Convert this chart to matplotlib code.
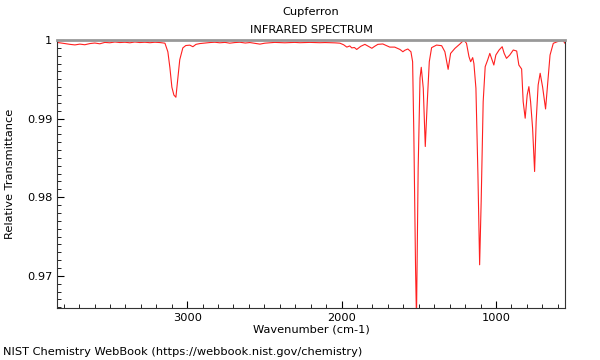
import matplotlib
matplotlib.use('Agg')
import matplotlib.pyplot as plt
from matplotlib.ticker import MultipleLocator, FuncFormatter

# spectrum
wavenumber = [
    3844, 3825, 3792, 3759, 3727, 3695, 3663, 3630, 3598, 3566,
    3533, 3501, 3468, 3436, 3403, 3371, 3339, 3307, 3274, 3241,
    3209, 3177, 3144, 3125, 3112, 3099, 3086, 3073, 3061, 3048,
    3028, 3009, 2983, 2963, 2943, 2918, 2885, 2853, 2821, 2789,
    2755, 2724, 2691, 2659, 2624, 2594, 2562, 2529, 2497, 2465,
    2433, 2399, 2368, 2335, 2303, 2270, 2238, 2206, 2173, 2141,
    2107, 2076, 2042, 2011, 1987, 1966, 1947, 1934, 1917, 1902,
    1876, 1849, 1826, 1804, 1786, 1765, 1733, 1711, 1688, 1656,
    1622, 1603, 1590, 1571, 1551, 1540, 1532, 1521, 1515, 1504,
    1492, 1484, 1471, 1458, 1445, 1432, 1417, 1385, 1352, 1331,
    1310, 1294, 1266, 1234, 1208, 1191, 1175, 1164, 1151, 1143,
    1130, 1117, 1106, 1096, 1083, 1070, 1054, 1040, 1025, 1014,
    1001, 980, 960, 947, 932, 911, 888, 866, 852, 834,
    824, 811, 798, 787, 776, 763, 750, 740, 727, 714,
    698, 679, 666, 650, 629, 603, 586, 568, 553,
]
transmittance = [
    0.99970, 0.99965, 0.99955, 0.99945, 0.99938, 0.99948, 0.99940, 0.99955, 0.99962, 0.99952,
    0.99970, 0.99965, 0.99975, 0.99968, 0.99972, 0.99965, 0.99975, 0.99968, 0.99972, 0.99966,
    0.99972, 0.99968, 0.99960, 0.99850, 0.99650, 0.99400, 0.99300, 0.99272, 0.99500, 0.99750,
    0.99900, 0.99930, 0.99935, 0.99915, 0.99945, 0.99955, 0.99962, 0.99968, 0.99972, 0.99965,
    0.99970, 0.99960, 0.99968, 0.99972, 0.99962, 0.99968, 0.99958, 0.99948, 0.99960, 0.99965,
    0.99970, 0.99968, 0.99965, 0.99968, 0.99970, 0.99966, 0.99968, 0.99970, 0.99968, 0.99966,
    0.99968, 0.99966, 0.99964, 0.99960, 0.99940, 0.99910, 0.99925, 0.99900, 0.99905, 0.99880,
    0.99920, 0.99945, 0.99920, 0.99895, 0.99920, 0.99945, 0.99950, 0.99930, 0.99910, 0.99910,
    0.99880, 0.99851, 0.99870, 0.99886, 0.99851, 0.99724, 0.98793, 0.97100, 0.96450, 0.98374,
    0.99517, 0.99653, 0.99386, 0.98645, 0.99216, 0.99724, 0.99903, 0.99936, 0.99928, 0.99851,
    0.99627, 0.99830, 0.99894, 0.99949, 1.00000, 0.99958, 0.99788, 0.99724, 0.99776, 0.99700,
    0.99386, 0.98285, 0.97140, 0.97946, 0.99216, 0.99661, 0.99746, 0.99830, 0.99746, 0.99682,
    0.99809, 0.99873, 0.99915, 0.99830, 0.99767, 0.99809, 0.99873, 0.99860, 0.99682, 0.99631,
    0.99216, 0.99005, 0.99301, 0.99407, 0.99216, 0.98878, 0.98327, 0.98962, 0.99428, 0.99577,
    0.99400, 0.99123, 0.99428, 0.99809, 0.99958, 0.99979, 0.99987, 1.00000, 0.99958,
]

plt.rcParams['font.family'] = 'DejaVu Sans'
plt.rcParams['font.size'] = 8.2

fig = plt.figure(figsize=(6.0, 3.6), dpi=100)
ax = fig.add_axes([0.095, 0.1444, 0.8467, 0.7444])

ax.plot(wavenumber, transmittance, color='#ff2020', lw=0.8)

ax.set_xlim(3843, 553)
ax.set_ylim(0.9659, 1.0)

ax.xaxis.set_major_locator(MultipleLocator(1000))
ax.xaxis.set_minor_locator(MultipleLocator(100))
ax.yaxis.set_major_locator(MultipleLocator(0.01))
ax.yaxis.set_minor_locator(MultipleLocator(0.001))
ax.yaxis.set_major_formatter(FuncFormatter(lambda v, p: f'{v:g}'))
ax.xaxis.set_major_formatter(FuncFormatter(lambda v, p: f'{v:g}'))

ax.tick_params(which='major', direction='in', length=5, width=0.8, labelsize=8.2)
ax.tick_params(which='minor', direction='in', length=3, width=0.6)

for side in ['left', 'bottom', 'right']:
    ax.spines[side].set_color('#333333')
    ax.spines[side].set_linewidth(0.8)
ax.spines['top'].set_color('#999999')
ax.spines['top'].set_linewidth(2)

ax.set_xlabel('Wavenumber (cm-1)', labelpad=1)
fig.text(10 / 600, 0.5167, 'Relative Transmittance', rotation=90,
         ha='center', va='center')

fig.text(311 / 600, 1 - 12 / 360, 'Cupferron', ha='center', va='center')
fig.text(311 / 600, 1 - 30 / 360, 'INFRARED SPECTRUM', ha='center', va='center')

fig.text(0.005, 1 - 352 / 360, 'NIST Chemistry WebBook (https://webbook.nist.gov/chemistry)',
         ha='left', va='center')

fig.savefig('out.png', dpi=100)
